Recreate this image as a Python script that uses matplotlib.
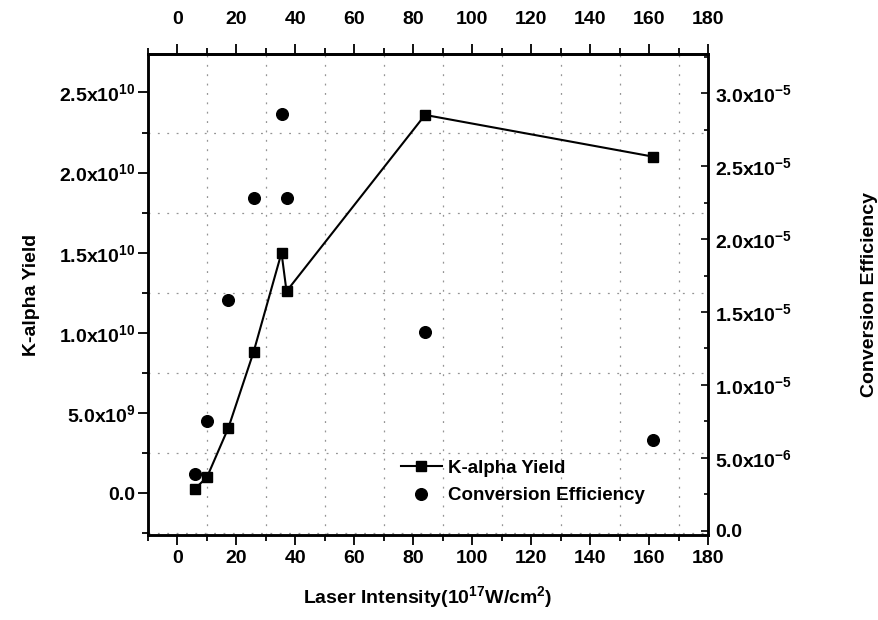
import matplotlib
matplotlib.use("Agg")
import matplotlib.pyplot as plt
from matplotlib.ticker import MultipleLocator

plt.rcParams['font.family'] = ['Liberation Sans', 'DejaVu Sans']
plt.rcParams['font.weight'] = 'bold'
plt.rcParams['mathtext.fontset'] = 'custom'
plt.rcParams['mathtext.rm'] = 'Liberation Sans:bold'
plt.rcParams['mathtext.bf'] = 'Liberation Sans:bold'
plt.rcParams['mathtext.default'] = 'bf'

# laser intensity (1e17 W/cm^2)
intensity = [6, 10, 17.3, 25.8, 35.3, 37, 84, 161.3]
# K-alpha photon yield
kalpha_yield = [0.3e9, 1.0e9, 4.1e9, 8.8e9, 1.50e10, 1.26e10, 2.36e10, 2.10e10]
# conversion efficiency
conv_eff = [3.9e-6, 7.5e-6, 15.8e-6, 22.8e-6, 28.6e-6, 22.8e-6, 13.6e-6, 6.2e-6]

left_ticks = [0, 5e9, 1e10, 1.5e10, 2e10, 2.5e10]
left_labels = ["0.0", r"5.0x10$^{9}$", r"1.0x10$^{10}$", r"1.5x10$^{10}$",
               r"2.0x10$^{10}$", r"2.5x10$^{10}$"]
right_ticks = [0, 5e-6, 1e-5, 1.5e-5, 2e-5, 2.5e-5, 3e-5]
right_labels = ["0.0", r"5.0x10$^{-6}$", r"1.0x10$^{-5}$", r"1.5x10$^{-5}$",
                r"2.0x10$^{-5}$", r"2.5x10$^{-5}$", r"3.0x10$^{-5}$"]

fig = plt.figure(figsize=(8.79, 6.2), dpi=100)
ax = fig.add_axes([148 / 879, 1 - 535 / 620, 560 / 879, 481 / 620])
ax2 = ax.twinx()

line, = ax.plot(intensity, kalpha_yield, color='black', lw=1.5, marker='s',
                markersize=6.8, label='K-alpha Yield', zorder=3)
pts, = ax2.plot(intensity, conv_eff, linestyle='none', marker='o', color='black',
                markersize=8.4, label='Conversion Efficiency', zorder=3)

ax.set_xlim(-10, 180)
ax.set_ylim(-2.6e9, 2.74e10)
ax2.set_ylim(-3.0e-7, 3.27e-5)

ax.xaxis.set_major_locator(MultipleLocator(20))
ax.xaxis.set_minor_locator(MultipleLocator(10))
ax.yaxis.set_minor_locator(MultipleLocator(2.5e9))
ax.set_yticks(left_ticks)
ax.set_yticklabels(left_labels)
ax2.set_yticks(right_ticks)
ax2.set_yticklabels(right_labels)
ax2.yaxis.set_minor_locator(MultipleLocator(2.5e-6))

# same intensity scale repeated along the top
top = ax.secondary_xaxis('top')
top.xaxis.set_major_locator(MultipleLocator(20))
top.xaxis.set_minor_locator(MultipleLocator(10))
top.tick_params(which='both', direction='out', labelsize=14, width=1.3, pad=12)
top.tick_params(which='major', length=7)
top.tick_params(which='minor', length=4)
top.spines['top'].set_linewidth(1.8)

ax.tick_params(which='both', direction='out', labelsize=14, width=1.3)
ax.tick_params(axis='y', pad=2)
ax.tick_params(axis='x', pad=4)
ax.tick_params(which='major', length=7)
ax.tick_params(which='minor', length=4)
ax2.tick_params(which='both', direction='in', labelsize=14, width=1.2, pad=5)
ax2.tick_params(which='major', length=5)
ax2.tick_params(which='minor', length=3)

for a in (ax, ax2):
    for s in a.spines.values():
        s.set_linewidth(1.8)

# broken dotted grid on the minor positions
ax.grid(which='minor', color='0.3', linestyle=(0, (1.5, 6)), linewidth=0.9, alpha=0.6)
ax.grid(which='major', visible=False)

ax.set_ylabel('K-alpha Yield', fontsize=14, fontweight='bold', labelpad=14)
ax2.set_ylabel('Conversion Efficiency', fontsize=14, fontweight='bold',
               rotation=90, labelpad=50)
ax.set_xlabel(r'Laser Intensity(10$^{17}$W/cm$^{2}$)', fontsize=14,
              fontweight='bold', labelpad=12)

ax2.legend([line, pts], ['K-alpha Yield', 'Conversion Efficiency'],
           loc='upper left', bbox_to_anchor=(384 / 879, 1 - 443 / 620),
           bbox_transform=fig.transFigure, frameon=False, fontsize=13.5,
           handlelength=2.2, handletextpad=0.3, labelspacing=0.55)

fig.savefig('out.png', dpi=100)
